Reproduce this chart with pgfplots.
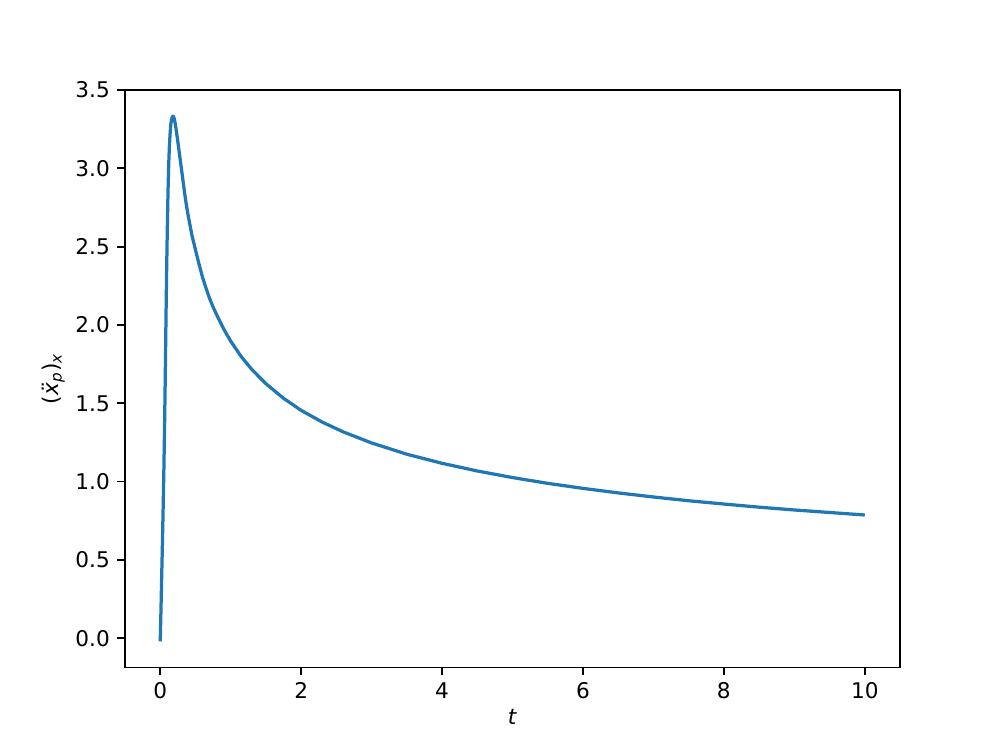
\documentclass[border=0pt]{standalone}
\usepackage{fontspec}
\setmainfont{DejaVu Sans}
\usepackage{pgfplots}
\pgfplotsset{compat=1.18}
\definecolor{mplblue}{HTML}{1F77B4}
\begin{document}
\begin{tikzpicture}
\begin{axis}[
  scale only axis,
  width=4.96in, height=3.696in,
  xmin=-0.5, xmax=10.5,
  ymin=-0.1865, ymax=3.5,
  xtick={0,2,4,6,8,10},
  ytick={0,0.5,1,1.5,2,2.5,3,3.5},
  yticklabel style={/pgf/number format/fixed,/pgf/number format/fixed zerofill,/pgf/number format/precision=1},
  /pgf/number format/assume math mode=true,
  tick align=outside,
  xtick pos=bottom, ytick pos=left,
  major tick length=3.5pt,
  tick style={black, line width=0.8pt},
  axis line style={line width=0.8pt},
  every tick label/.append style={font=\fontsize{10}{12}\selectfont},
  label style={font=\fontsize{10}{12}\selectfont},
  xlabel={\textit{t}},
  ylabel={(\textit{ẍ}\textsubscript{\textit{p}})\textsubscript{\textit{x}}},
  xlabel style={yshift=2pt},
  ylabel style={yshift=-2pt},
  clip=false,
]
\addplot[mplblue, line width=1.5pt, line join=round] table {
t y
0.000 -0.02
0.010 0.17
0.020 0.38
0.030 0.58
0.040 0.80
0.050 1.03
0.060 1.30
0.070 1.62
0.080 1.98
0.090 2.32
0.100 2.60
0.110 2.84
0.120 3.02
0.130 3.14
0.140 3.22
0.150 3.28
0.160 3.31
0.170 3.325
0.180 3.333
0.190 3.33
0.200 3.315
0.215 3.28
0.230 3.235
0.250 3.17
0.275 3.085
0.300 3.00
0.325 2.915
0.350 2.83
0.375 2.755
0.400 2.69
0.450 2.573
0.500 2.48
0.550 2.39
0.600 2.305
0.650 2.235
0.700 2.17
0.750 2.115
0.800 2.066
0.900 1.975
1.000 1.897
1.150 1.798
1.300 1.716
1.500 1.625
1.750 1.532
2.000 1.455
2.300 1.380
2.600 1.317
3.000 1.247
3.500 1.175
4.000 1.117
4.500 1.068
5.000 1.026
5.500 0.989
6.000 0.957
6.500 0.928
7.000 0.902
7.500 0.878
8.000 0.857
8.500 0.837
9.000 0.819
9.500 0.803
10.00 0.787
};
\end{axis}
\path[use as bounding box] (-0.8in,-0.528in) rectangle (5.6in,4.272in);
\end{tikzpicture}
\end{document}
